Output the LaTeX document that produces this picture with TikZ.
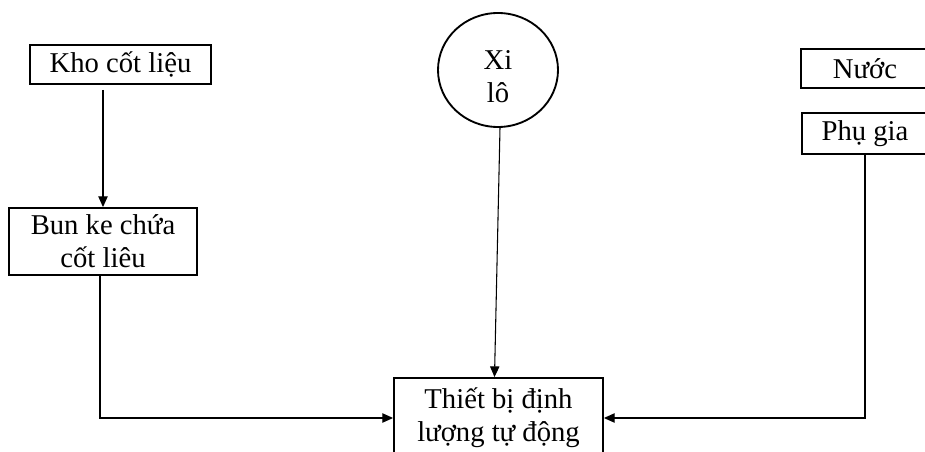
\documentclass[tikz,border=0pt]{standalone}
\usepackage{fontspec}
\setmainfont{Liberation Serif}
\usetikzlibrary{arrows.meta,shapes.geometric}
\tikzset{
  txt/.style={font=\fontsize{21.5}{24.75}\selectfont},
  unitbox/.style={draw, line width=1.4pt, inner sep=0pt, align=center, txt},
  silo/.style={draw, ellipse, line width=1.4pt, inner sep=0pt,
    minimum width=90pt, minimum height=85.5pt},
  flow/.style={line width=0.8pt, -{Triangle[length=8pt,width=7pt]}},
  feed/.style={line width=0.8pt}
}
\begin{document}
\begin{tikzpicture}[x=0.75pt,y=-0.75pt]
  \useasboundingbox (0,0) rectangle (925,452);

  % storage and feed units
  \node[unitbox, minimum width=135.75pt, minimum height=29.25pt] (kho) at (120.5,64.5) {Kho cốt liệu};
  \node[unitbox, minimum width=141pt, minimum height=50.25pt] (bun) at (103,241.5) {Bun ke chứa\\cốt liêu};
  \node[silo, label={[name=xitext, txt, align=center, yshift=-5pt]center:Xi\\lô}] (xi) at (498,70) {};
  \node[unitbox, minimum width=96pt, minimum height=29.25pt] (nuoc) at (865,68.5) {Nước};
  \node[unitbox, minimum width=94.5pt, minimum height=30.75pt] (phu) at (865,133.5) {Phụ gia};

  % dosing unit
  \node[unitbox, minimum width=156.75pt, minimum height=60pt] (dev) at (498.5,418) {Thiết bị định\\lượng tự động};

  % material flows
  \draw[flow] ([yshift=-3.75pt]kho.south -| bun.north) -- (bun.north);
  \draw[flow] ([xshift=-2.25pt]bun.south) |- (dev.west);
  \draw[flow] ([xshift=1.5pt]xi.south) -- ([xshift=-3pt]dev.north);
  \draw[flow] (phu.south) |- (dev.east);
\end{tikzpicture}
\end{document}
